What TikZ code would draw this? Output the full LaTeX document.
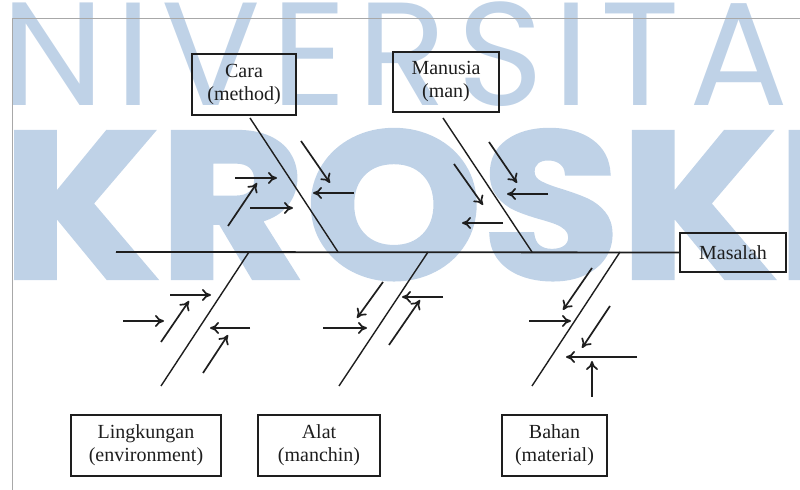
\documentclass[tikz,border=0pt]{standalone}
\usepackage{fontspec}
\setmainfont{Liberation Serif}
\newfontfamily\wmfont{Poppins}[LetterSpace=7]
\newfontfamily\wmheavy{Poppins}[FakeStretch=1.08,BoldFeatures={FakeBold=2}]
\usetikzlibrary{arrows.meta}
\definecolor{wmblue}{HTML}{BFD2E7}
\definecolor{ink}{HTML}{1E1E1E}
\definecolor{framegrey}{HTML}{A8A8A8}

% one cause arrow: name, tail, head
\newcommand\causearrow[3]{%
  \coordinate (#1-s) at (#2);
  \coordinate (#1-e) at (#3);
  \draw[cause] (#1-s) -- (#1-e);}

\begin{document}
\begin{tikzpicture}[x=0.5pt,y=-0.5pt,
  labelbox/.style={draw=ink,line width=0.8pt,align=center,inner sep=0pt,
    text=ink,font=\fontsize{10}{11.5}\selectfont},
  spine/.style={draw=ink,line width=0.9pt},
  bone/.style={draw=ink,line width=0.7pt},
  cause/.style={draw=ink,line width=0.85pt,-{To[length=4.5pt,width=6pt]}},
  wm/.style={text=wmblue,inner sep=0pt,anchor=base west},
  frame/.style={draw=framegrey,line width=0.45pt}]

\useasboundingbox (0,0) rectangle (800,490);

% background lettering
\begin{scope}
  \clip (0,0) rectangle (800,490);
  \node[wm,font=\wmfont\fontsize{73.5}{73.5}\selectfont] (wmtop) at (-108,106) {UNIVERSITAS};
  \node[wm,font=\wmheavy\bfseries\fontsize{104}{104}\selectfont] (wmbottom) at (2,278) {KROSKI};
\end{scope}

% page frame
\coordinate (frameBL) at (12,490);
\coordinate (frameTL) at (12,18);
\coordinate (frameTR) at (800,18);
\draw[frame] (frameBL) -- (frameTL) -- (frameTR);

% category boxes and effect
\node[labelbox,minimum width=52pt,minimum height=30.5pt] (cara) at (244,84.5) {Cara\\(method)};
\node[labelbox,minimum width=53pt,minimum height=30pt] (manusia) at (446,82) {Manusia\\(man)};
\node[labelbox,minimum width=53pt,minimum height=19.5pt] (masalah) at (733,252.5) {Masalah};
\node[labelbox,minimum width=75pt,minimum height=30.5pt] (lingkungan) at (146,445.5) {Lingkungan\\(environment)};
\node[labelbox,minimum width=61pt,minimum height=30.5pt] (alat) at (319,445.5) {Alat\\(manchin)};
\node[labelbox,minimum width=52.5pt,minimum height=30.5pt] (bahan) at (554.5,445.5) {Bahan\\(material)};

% spine
\coordinate (spineTail) at (116,252);
\draw[spine] (spineTail) -- (masalah.west);

% main bones
\coordinate (caraTop) at (250,118);     \coordinate (caraJoin) at (338,252);
\coordinate (manTop) at (443,118);      \coordinate (manJoin) at (532,252);
\coordinate (lingJoin) at (249,252);    \coordinate (lingEnd) at (161,386);
\coordinate (alatJoin) at (428,252);    \coordinate (alatEnd) at (339,386);
\coordinate (bahanJoin) at (620,252);   \coordinate (bahanEnd) at (532,386);
\draw[bone] (caraTop) -- (caraJoin);
\draw[bone] (manTop) -- (manJoin);
\draw[bone] (lingJoin) -- (lingEnd);
\draw[bone] (alatJoin) -- (alatEnd);
\draw[bone] (bahanJoin) -- (bahanEnd);

% causes: method
\causearrow{a1}{235,178}{277,178}
\causearrow{a2}{228,226}{257,183}
\causearrow{a3}{250,208}{293,208}
\causearrow{a4}{301,141}{330,183}
\causearrow{a5}{354,193}{313,193}

% causes: man
\causearrow{b1}{489,142}{517,183}
\causearrow{b2}{548,194}{507,194}
\causearrow{b3}{454,164}{483,205}
\causearrow{b4}{503,223}{462,223}

% causes: environment
\causearrow{c1}{170,295}{211,295}
\causearrow{c2}{161,342}{189,301}
\causearrow{c3}{123,321}{164,321}
\causearrow{c4}{250,328}{210,328}
\causearrow{c5}{203,373}{228,335}

% causes: machine
\causearrow{d1}{383,282}{357,318}
\causearrow{d2}{323,328}{367,328}
\causearrow{d3}{443,297}{402,297}
\causearrow{d4}{389,345}{420,300}

% causes: material
\causearrow{e1}{592,268}{563,310}
\causearrow{e2}{529,321}{571,321}
\causearrow{e3}{610,306}{582,348}
\causearrow{e4}{637,357}{566,357}
\causearrow{e5}{592,397}{592,361}

\end{tikzpicture}
\end{document}
